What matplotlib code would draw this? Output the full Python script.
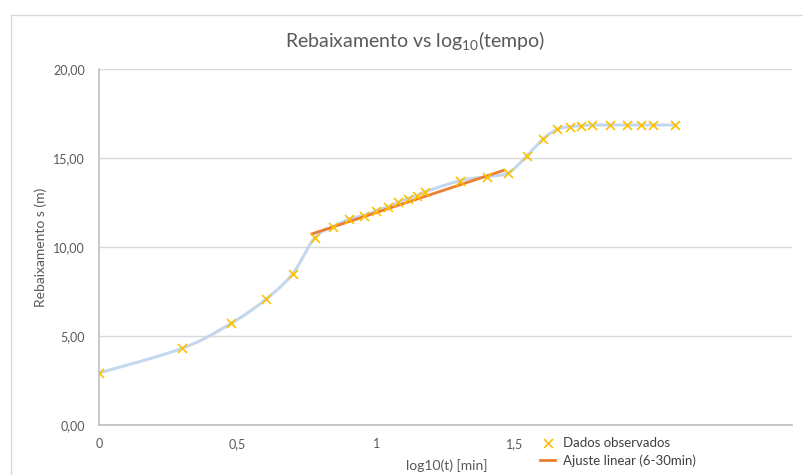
import numpy as np
import matplotlib
matplotlib.use("Agg")
import matplotlib.pyplot as plt
from matplotlib.patches import Rectangle
from matplotlib.ticker import FixedLocator, FuncFormatter

plt.rcParams['font.family'] = ['Lato', 'DejaVu Sans']
plt.rcParams['mathtext.fontset'] = 'custom'
plt.rcParams['mathtext.rm'] = 'Lato'
plt.rcParams['mathtext.default'] = 'regular'

# time (min) and observed drawdown s (m)
t_min = [1, 2, 3, 4, 5, 6, 7, 8, 9, 10, 11, 12, 13, 14, 15, 20, 25, 30,
         35, 40, 45, 50, 55, 60, 70, 80, 90, 100, 120]
s_obs = [2.94, 4.33, 5.73, 7.08, 8.52, 10.54, 11.16, 11.59, 11.78, 12.06,
         12.28, 12.53, 12.74, 12.90, 13.11, 13.74, 13.97, 14.19,
         15.15, 16.09, 16.63, 16.78, 16.83, 16.87, 16.87, 16.87, 16.87,
         16.87, 16.87]

# linear fit (6-30 min)
fit_slope = 5.16
fit_intercept = 6.79
fit_range = [0.768, 1.458]

y_ticks = [0, 5, 10, 15, 20]
x_ticks = [0, 0.5, 1, 1.5]

GREY = '#595959'


def smooth_curve(x, y, n=20):
    """Excel-like smoothed line (Catmull-Rom through the points)"""
    p = np.column_stack([x, y])
    p = np.vstack([p[0], p, p[-1]])
    out = []
    for i in range(1, len(p) - 2):
        p0, p1, p2, p3 = p[i - 1], p[i], p[i + 1], p[i + 2]
        c1 = p1 + (p2 - p0) / 6
        c2 = p2 - (p3 - p1) / 6
        u = np.linspace(0, 1, n)[:, None]
        out.append((1 - u)**3 * p1 + 3 * (1 - u)**2 * u * c1
                   + 3 * (1 - u) * u**2 * c2 + u**3 * p2)
    out = np.vstack(out)
    return out[:, 0], out[:, 1]


x = np.log10(t_min)
s = np.array(s_obs)

fig = plt.figure(figsize=(8.04, 4.75), dpi=100)
ax = fig.add_axes([99 / 804, 1 - 425.3 / 475, (792 - 99) / 804, (425.3 - 69.3) / 475])

# -------- series --------
xs, ys = smooth_curve(x, s)
ax.plot(xs, ys, color='#C3D8EE', lw=2.2, zorder=2)
ax.scatter(x, s, marker='x', s=42, linewidths=1.2, color='#FFC000',
           zorder=4, label='Dados observados')
fx = np.array(fit_range)
ax.plot(fx, fit_slope * fx + fit_intercept, color='#ED7D31', lw=2.0,
        zorder=3, label='Ajuste linear (6-30min)')

# -------- axes --------
ax.set_xlim(0, 2.5)
ax.set_ylim(0, 20)
ax.yaxis.set_major_locator(FixedLocator(y_ticks))
ax.yaxis.set_major_formatter(FuncFormatter(lambda v, p: f'{v:.2f}'.replace('.', ',')))
ax.xaxis.set_major_locator(FixedLocator(x_ticks))
ax.xaxis.set_major_formatter(FuncFormatter(lambda v, p: f'{v:g}'.replace('.', ',')))
ax.tick_params(length=0, labelsize=9, colors=GREY, pad=9)
ax.tick_params(axis='y', pad=10)
ax.grid(axis='y', color='#D9D9D9', lw=1)
ax.set_axisbelow(True)
for side in ['top', 'right']:
    ax.spines[side].set_visible(False)
for side in ['left', 'bottom']:
    ax.spines[side].set_color('#BFBFBF')
    ax.spines[side].set_linewidth(1.2)

fig.text(447 / 804, 1 - 466 / 475, 'log10(t) [min]', ha='center', va='center',
         fontsize=10, color=GREY)
fig.text(41 / 804, 1 - 247 / 475, 'Rebaixamento s (m)', ha='center', va='center',
         rotation=90, fontsize=10, color=GREY)
fig.text(415 / 804, 1 - 40 / 475, 'Rebaixamento vs log$_{10}$(tempo)',
         ha='center', va='center', fontsize=14, color=GREY)

fig.legend(loc='upper left', bbox_to_anchor=(533 / 804, 1 - 430 / 475),
           frameon=False, fontsize=9.5, labelcolor='#404040', handlelength=1.2,
           handletextpad=0.6, labelspacing=0.45, borderpad=0)

# chart border
fig.add_artist(Rectangle((11 / 804, -0.1), 1.2, 1.1 - 15 / 475,
                         transform=fig.transFigure, fill=False,
                         edgecolor='#D9D9D9', lw=1))

plt.savefig('out.png', dpi=100)
